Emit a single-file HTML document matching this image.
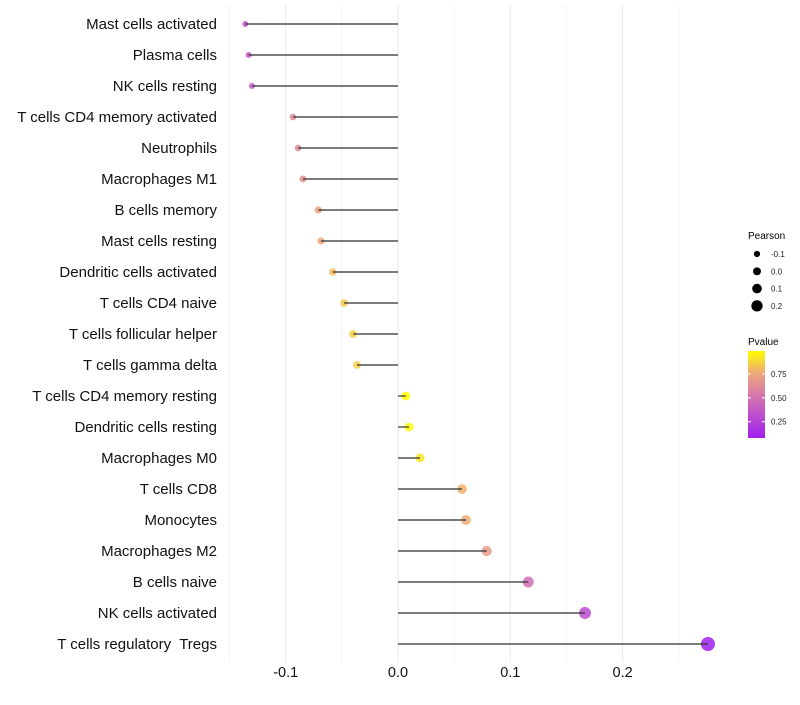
<!DOCTYPE html>
<html><head><meta charset="utf-8"><style>
body{margin:0;background:#fff;font-family:"Liberation Sans",sans-serif}
text{white-space:pre}
</style></head><body>
<svg id="chart" width="800" height="700" xmlns="http://www.w3.org/2000/svg"></svg>
<script>
const categories=["Mast cells activated","Plasma cells","NK cells resting","T cells CD4 memory activated","Neutrophils","Macrophages M1","B cells memory","Mast cells resting","Dendritic cells activated","T cells CD4 naive","T cells follicular helper","T cells gamma delta","T cells CD4 memory resting","Dendritic cells resting","Macrophages M0","T cells CD8","Monocytes","Macrophages M2","B cells naive","NK cells activated","T cells regulatory  Tregs"];
const pearson=[-0.136,-0.133,-0.130,-0.0935,-0.089,-0.0846,-0.071,-0.0686,-0.058,-0.048,-0.040,-0.0365,0.007,0.0098,0.0196,0.057,0.0605,0.079,0.116,0.1665,0.276];
const pvalue=[0.36,0.38,0.40,0.62,0.63,0.65,0.74,0.75,0.80,0.84,0.86,0.86,0.99,0.98,0.92,0.78,0.77,0.70,0.48,0.30,0.08];
const xTicks=[-0.1,0,0.1,0.2];
const xTickLabels=["-0.1","0.0","0.1","0.2"];
const sizeLegend=[-0.1,0,0.1,0.2];
const sizeLegendLabels=["-0.1","0.0","0.1","0.2"];
const pLegend=[0.25,0.5,0.75];
const pLegendLabels=["0.25","0.50","0.75"];

const NS="http://www.w3.org/2000/svg";
const svg=document.getElementById('chart');
const X=v=>398+v*1123;
const Y=i=>24+i*31;
const R=v=>4.3+10*v;
const pMin=0.08,pMax=0.99;
const stops=[[0,[160,32,240]],[0.5,[214,120,170]],[0.75,[238,170,120]],[1,[255,255,0]]];
function col(p){let t=Math.max(0,Math.min(1,(p-pMin)/(pMax-pMin)));
 for(let k=1;k<stops.length;k++){if(t<=stops[k][0]){const a=stops[k-1],b=stops[k];const f=(t-a[0])/(b[0]-a[0]);
 return 'rgb('+a[1].map((c,j)=>Math.round(c+(b[1][j]-c)*f)).join(',')+')';}}return 'rgb(255,255,0)';}
function el(tag,attrs,parent){const e=document.createElementNS(NS,tag);for(const k in attrs)e.setAttribute(k,attrs[k]);(parent||svg).appendChild(e);return e;}

for(let k=-3;k<=5;k++){const v=k*0.05;const g=el('line',{x1:X(v),x2:X(v),y1:5,y2:662,stroke:'#ebebeb','stroke-width':k%2===0?1.1:0.6});

}
xTicks.forEach((v,i)=>{const t=el('text',{x:X(v),y:677,'text-anchor':'middle','font-size':14.5,fill:'#111'});t.textContent=xTickLabels[i];

});
categories.forEach((c,i)=>{
 const t=el('text',{x:217,y:Y(i)+5,'text-anchor':'end','font-size':15,fill:'#111'});t.textContent=c;
 
 
 const d=el('circle',{cx:X(pearson[i]),cy:Y(i),r:R(pearson[i]),fill:col(pvalue[i]),'fill-opacity':0.85});
 
 
 const l=el('line',{x1:X(0),x2:X(pearson[i]),y1:Y(i),y2:Y(i),stroke:'#333','stroke-width':1.4,'stroke-opacity':0.85});
 
 
});
const lt=el('text',{x:748,y:239,'font-size':10,fill:'#000'});lt.textContent='Pearson';


sizeLegend.forEach((v,i)=>{const y=254+i*17.3;
 const c=el('circle',{cx:757,cy:y,r:R(v)*0.85+0.3,fill:'#000'});
 
 
 const t=el('text',{x:771,y:y+3,'font-size':8,fill:'#1a1a1a'});t.textContent=sizeLegendLabels[i];
 
 });
const pt=el('text',{x:748,y:345,'font-size':10,fill:'#000'});pt.textContent='Pvalue';


const defs=el('defs',{});const lg=el('linearGradient',{id:'pg',x1:0,y1:1,x2:0,y2:0},defs);
stops.forEach(s=>el('stop',{offset:s[0],'stop-color':'rgb('+s[1].join(',')+')'},lg));
const cb=el('rect',{x:748,y:351,width:17,height:87,fill:'url(#pg)'});


const PY=p=>438-(p-pMin)/(pMax-pMin)*87;
pLegend.forEach((p,i)=>{el('line',{x1:748,x2:751,y1:PY(p),y2:PY(p),stroke:'#fff'});el('line',{x1:762,x2:765,y1:PY(p),y2:PY(p),stroke:'#fff'});
 const t=el('text',{x:771,y:PY(p)+3,'font-size':8,fill:'#1a1a1a'});t.textContent=pLegendLabels[i];
 
 });
</script>
</body></html>
